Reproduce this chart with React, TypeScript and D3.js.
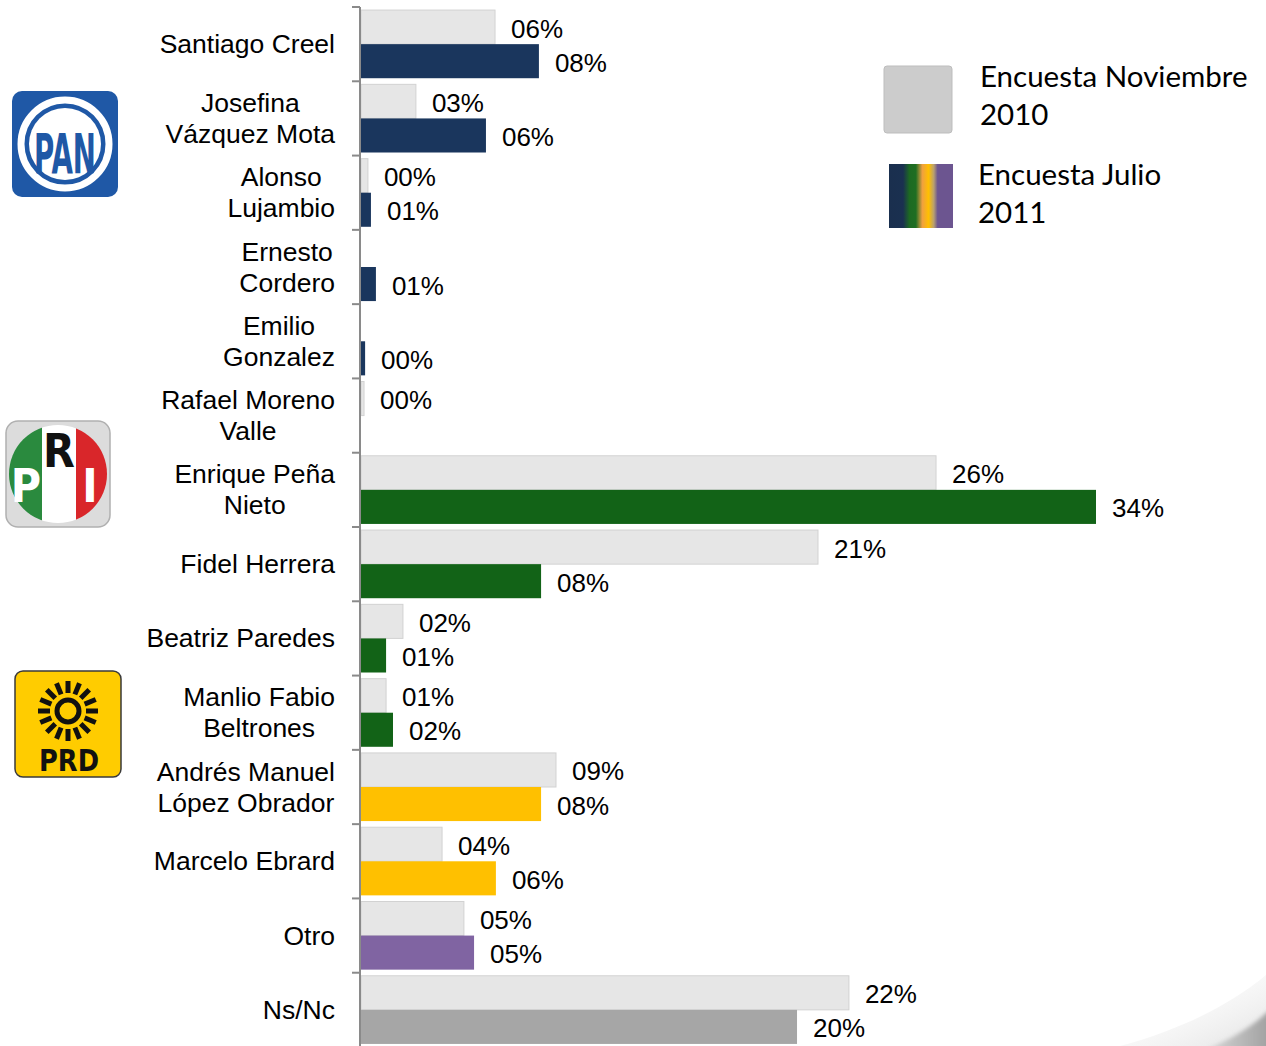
import React from "react";
import * as d3 from "d3";

const categories: string[] = [
  "Santiago Creel",
  "Josefina\nVázquez Mota",
  "Alonso\nLujambio",
  "Ernesto\nCordero",
  "Emilio\nGonzalez",
  "Rafael Moreno\nValle",
  "Enrique Peña\nNieto",
  "Fidel Herrera",
  "Beatriz Paredes",
  "Manlio Fabio\nBeltrones",
  "Andrés Manuel\nLópez Obrador",
  "Marcelo Ebrard",
  "Otro",
  "Ns/Nc",
];

// bar lengths (percent)
const nov2010: (number | null)[] = [6.2, 2.54, 0.32, null, null, 0.14, 26.6, 21.14, 1.94, 1.16, 9.02, 3.75, 4.76, 22.57];
const jul2011: (number | null)[] = [8.23, 5.78, 0.46, 0.69, 0.19, null, 34.0, 8.33, 1.16, 1.48, 8.33, 6.24, 5.23, 20.17];

// printed labels
const novLabels: (number | null)[] = [6, 3, 0, null, null, 0, 26, 21, 2, 1, 9, 4, 5, 22];
const julLabels: (number | null)[] = [8, 6, 1, 1, 0, null, 34, 8, 1, 2, 8, 6, 5, 20];

const party: string[] = ["PAN", "PAN", "PAN", "PAN", "PAN", "PAN", "PRI", "PRI", "PRI", "PRI", "PRD", "PRD", "OTRO", "NSNC"];

const seriesKeys = ["nov", "jul"];
const legendLabels = [["Encuesta Noviembre", "2010"], ["Encuesta Julio", "2011"]];

const partyColor: Record<string, string> = {
  PAN: "#1a365d",
  PRI: "#126317",
  PRD: "#ffc000",
  OTRO: "#8064a2",
  NSNC: "#a6a6a6",
};
const novColor = "#e6e6e6";

const FONT = "'Liberation Sans', Arial, sans-serif";
const LFONT = "Lato, 'Open Sans', sans-serif";
const CAT_SIZE = 26.5;

let ctx: CanvasRenderingContext2D | null = null;
function measure(text: string, font: string): number {
  if (!ctx) ctx = document.createElement("canvas").getContext("2d");
  if (!ctx) return text.length * 13;
  ctx.font = font;
  return ctx.measureText(text).width;
}

const fmt = (v: number) => d3.format("02d")(v) + "%";

function PanLogo() {
  return (
    <g>
      <rect x={12} y={91} width={106} height={106} rx={10} fill="#1f58a6" />
      <circle cx={65} cy={144} r={44} fill="none" stroke="#fff" strokeWidth={7} />
      <circle cx={65} cy={144} r={36} fill="#fff" />
      <text x={65} y={173} textAnchor="middle" fontFamily="'Liberation Sans Narrow', 'DejaVu Sans Condensed', sans-serif" fontWeight="bold" fontSize={56} fill="#1f58a6" textLength={62} lengthAdjust="spacingAndGlyphs">PAN</text>
    </g>
  );
}

function PriLogo() {
  return (
    <g>
      <defs>
        <clipPath id="priClip">
          <circle cx={58} cy={474} r={49} />
        </clipPath>
      </defs>
      <rect x={6} y={421} width={104} height={106} rx={12} fill="#dcdcdc" stroke="#b0b0b0" strokeWidth={1.5} />
      <g clipPath="url(#priClip)">
        <rect x={8} y={424} width={34} height={100} fill="#2a8a3e" />
        <rect x={42} y={424} width={34} height={100} fill="#ffffff" />
        <rect x={76} y={424} width={34} height={100} fill="#d9262a" />
      </g>
      <text x={26} y={502} textAnchor="middle" fontFamily="'DejaVu Sans Condensed', sans-serif" fontWeight="bold" fontSize={46} fill="#fff">P</text>
      <text x={59} y={467} textAnchor="middle" fontFamily="'DejaVu Sans Condensed', sans-serif" fontWeight="bold" fontSize={46} fill="#111">R</text>
      <text x={90} y={502} textAnchor="middle" fontFamily="'DejaVu Sans Condensed', sans-serif" fontWeight="bold" fontSize={46} fill="#fff">I</text>
    </g>
  );
}

function PrdLogo() {
  const cx = 68;
  const cy = 711;
  const rays = d3.range(16).map((i) => (i * Math.PI * 2) / 16);
  return (
    <g>
      <rect x={15} y={671} width={106} height={106} rx={8} fill="#ffcc00" stroke="#3a3a3a" strokeWidth={1.5} />
      <circle cx={cx} cy={cy} r={11} fill="none" stroke="#111" strokeWidth={5} />
      {rays.map((a, i) => (
        <line key={i} x1={cx + Math.cos(a) * 18} y1={cy + Math.sin(a) * 18} x2={cx + Math.cos(a) * 30} y2={cy + Math.sin(a) * 30} stroke="#111" strokeWidth={5} />
      ))}
      <text x={69} y={771} textAnchor="middle" fontFamily="'DejaVu Sans Condensed', sans-serif" fontWeight="bold" fontSize={30} fill="#111" textLength={60} lengthAdjust="spacingAndGlyphs">PRD</text>
    </g>
  );
}

export default function App() {
  const width = 1266;
  const height = 1046;
  const axisX = 360;

  const y = d3.scaleBand<string>().domain(categories).range([7, 1047]).padding(0);
  const sub = d3.scaleBand<string>().domain(seriesKeys).range([0, y.bandwidth()]).paddingInner(0).paddingOuter(0.09);
  const x = d3.scaleLinear().domain([0, 34]).range([axisX + 1, 1096]);

  const labelFont = `${CAT_SIZE}px ${FONT}`;
  const ticks = categories.map((c) => y(c) as number).concat([1047]);

  return (
    <svg width={width} height={height} style={{ position: "absolute", left: 0, top: 0, background: "#fff" }}>
      <defs>
        <linearGradient id="julGrad" x1="0" x2="1" y1="0" y2="0">
          <stop offset="0" stopColor="#1a2f4e" />
          <stop offset="0.22" stopColor="#1a3050" />
          <stop offset="0.32" stopColor="#1d6a22" />
          <stop offset="0.42" stopColor="#1f6e22" />
          <stop offset="0.52" stopColor="#f0a040" />
          <stop offset="0.62" stopColor="#ffc000" />
          <stop offset="0.7" stopColor="#b8a070" />
          <stop offset="0.76" stopColor="#6c5590" />
          <stop offset="1" stopColor="#6c5590" />
        </linearGradient>
        <linearGradient id="haze" x1="0" x2="1" y1="0" y2="1">
          <stop offset="0" stopColor="#ffffff" stopOpacity={0} />
          <stop offset="1" stopColor="#e2e2e2" />
        </linearGradient>
        <linearGradient id="swoosh" x1="0" x2="1" y1="0" y2="0">
          <stop offset="0" stopColor="#d8d8d8" />
          <stop offset="1" stopColor="#a0a0a0" />
        </linearGradient>
        <filter id="blur">
          <feGaussianBlur stdDeviation="2" />
        </filter>
      </defs>

      {/* corner decoration */}
      <path d="M1120,1046 C1180,1030 1230,1005 1266,975 L1266,1046 Z" fill="url(#haze)" />
      <path d="M1205,1050 C1230,1040 1250,1028 1270,1010 L1270,1050 Z" fill="url(#swoosh)" filter="url(#blur)" />

      {/* bars */}
      {categories.map((c, i) => {
        const y0 = y(c) as number;
        const nv = nov2010[i];
        const jv = jul2011[i];
        const ny = y0 + (sub("nov") as number);
        const jy = y0 + (sub("jul") as number);
        const bh = sub.bandwidth();
        return (
          <g key={c}>
            {nv !== null && (
              <rect x={x(0)} y={ny} width={Math.max(0, x(nv) - x(0))} height={bh} fill={novColor} stroke="#d2d2d2" strokeWidth={1} />
            )}
            {jv !== null && (
              <rect x={x(0)} y={jy} width={Math.max(0, x(jv) - x(0))} height={bh} fill={partyColor[party[i]]} />
            )}
            {novLabels[i] !== null && nv !== null && (
              <text x={x(nv) + 16} y={ny + bh / 2 + 10.5} fontFamily={FONT} fontSize={26} fill="#000">{fmt(novLabels[i] as number)}</text>
            )}
            {julLabels[i] !== null && jv !== null && (
              <text x={x(jv) + 16} y={jy + bh / 2 + 10.5} fontFamily={FONT} fontSize={26} fill="#000">{fmt(julLabels[i] as number)}</text>
            )}
          </g>
        );
      })}

      {/* axis */}
      <line x1={axisX} x2={axisX} y1={7} y2={1047} stroke="#8a8a8a" strokeWidth={2} />
      {ticks.map((t, i) => (
        <line key={i} x1={axisX - 8} x2={axisX} y1={t} y2={t} stroke="#8a8a8a" strokeWidth={2} />
      ))}

      {/* category labels */}
      {categories.map((c) => {
        const lines = c.split("\n");
        const maxW = d3.max(lines, (l) => measure(l, labelFont)) as number;
        const cx = 335 - maxW / 2;
        const center = (y(c) as number) + y.bandwidth() / 2;
        const lh = 31;
        const first = center - ((lines.length - 1) * lh) / 2;
        return (
          <text key={c} fontFamily={FONT} fontSize={CAT_SIZE} fill="#000" textAnchor="middle">
            {lines.map((l, j) => (
              <tspan key={j} x={cx} y={first + j * lh + 9}>{l}</tspan>
            ))}
          </text>
        );
      })}

      {/* logos */}
      <PanLogo />
      <PriLogo />
      <PrdLogo />

      {/* legend */}
      <rect x={884} y={66} width={68} height={67} rx={3} fill="#cccccc" stroke="#bdbdbd" strokeWidth={1} />
      <rect x={889} y={164} width={64} height={64} fill="url(#julGrad)" />
      {legendLabels.map((ls, i) => (
        <text key={i} fontFamily={LFONT} fontSize={29.5} fill="#000">
          {ls.map((l, j) => (
            <tspan key={j} x={i === 0 ? 980 : 978} y={(i === 0 ? 87 : 185) + j * 38}>{l}</tspan>
          ))}
        </text>
      ))}
    </svg>
  );
}
